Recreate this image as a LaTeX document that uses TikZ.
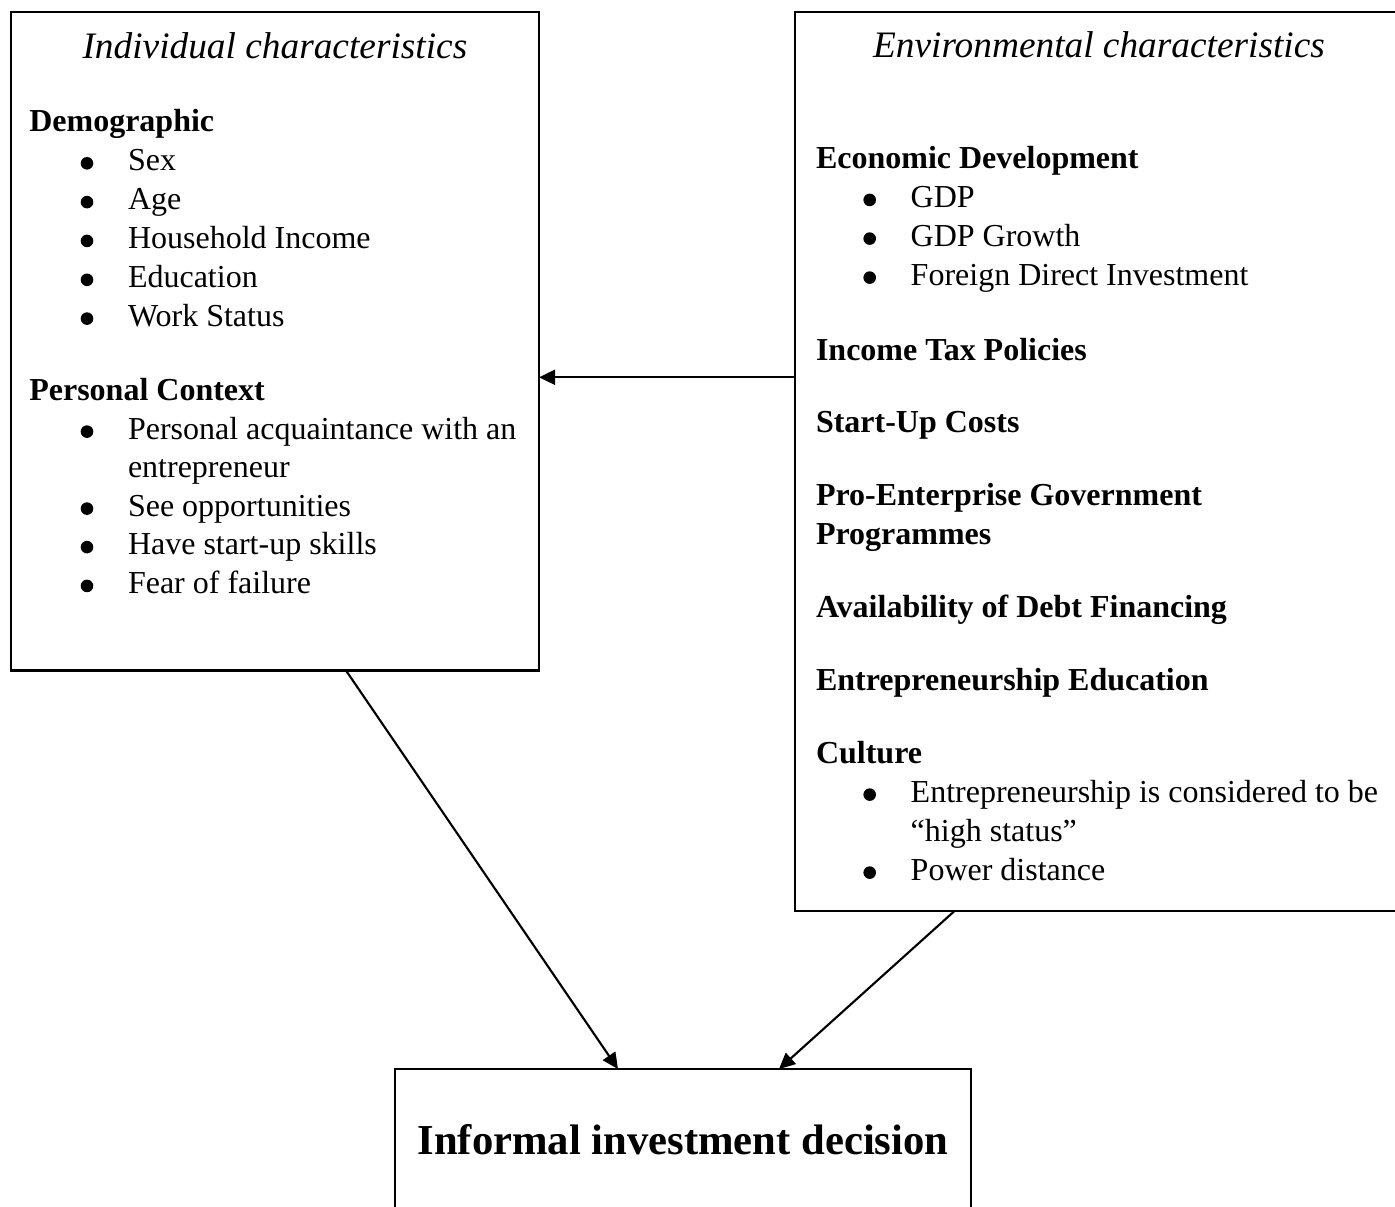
\documentclass[tikz,border=0pt]{standalone}
\usepackage{fontspec}
\setmainfont{Liberation Serif}
\usetikzlibrary{arrows.meta}
\newcommand\px{0.375pt}
\tikzset{
  box/.style={draw, line width=0.8pt, rectangle, inner sep=0pt, outer sep=0pt, anchor=north west},
  txt/.style={anchor=base west, inner sep=0pt, outer sep=0pt, font=\fontsize{12}{14}\selectfont},
  hd/.style={txt, font=\fontsize{12}{14}\selectfont\bfseries},
  ttl/.style={anchor=base, inner sep=0pt, font=\fontsize{14}{16}\selectfont\itshape},
  big/.style={anchor=base, inner sep=0pt, font=\fontsize{16}{19}\selectfont\bfseries},
  conn/.style={line width=0.8pt, -{Triangle[length=6pt,width=5.6pt]}},
  dot/.style={fill=black}
}
% bulleted item: name, x, baseline y, text
\newcommand\myitem[4]{%
  \node[txt] (#1) at (#2,#3) {#4};
  \fill[dot] ([xshift=-41*\px, yshift=7.4*\px]#1.base west) circle[radius=6.3*\px];
}
\begin{document}
\begin{tikzpicture}[x=0.375pt, y=-0.375pt]
\useasboundingbox (0,0) rectangle (1395,1206);

% boxes
\node[box, minimum width=528.3*\px, minimum height=658.8*\px] (L) at (10.7,11.7) {};
\node[box, minimum width=608*\px, minimum height=899.3*\px] (R) at (795,11.7) {};
\node[box, minimum width=576*\px, minimum height=200*\px] (B) at (395,1069) {};

% left box content
\node[ttl] (lt) at (274.9,58.3) {Individual characteristics};
\node[hd] (demo) at (29.3,131) {Demographic};
\myitem{sex}{128}{170.7}{Sex}
\myitem{age}{128}{209.5}{Age}
\myitem{inc}{128}{248.3}{Household Income}
\myitem{edu}{128}{287.2}{Education}
\myitem{work}{128}{326}{Work Status}
\node[hd] (pc) at (29.3,400.7) {Personal Context};
\myitem{acq}{128}{439}{Personal acquaintance with an}
\node[txt] (acq2) at (128,477.5) {entrepreneur};
\myitem{opp}{128}{516}{See opportunities}
\myitem{skl}{128}{554.5}{Have start-up skills}
\myitem{fear}{128}{593.3}{Fear of failure}

% right box content
\node[ttl] (rt) at (1099,57.3) {Environmental characteristics};
\node[hd] (eco) at (816,168.3) {Economic Development};
\myitem{gdp}{910.7}{207.3}{GDP}
\myitem{gdpg}{910.7}{246}{GDP Growth}
\myitem{fdi}{910.7}{285}{Foreign Direct Investment}
\node[hd] (tax) at (816,360) {Income Tax Policies};
\node[hd] (suc) at (816,432.7) {Start-Up Costs};
\node[hd] (peg) at (816,505.7) {Pro-Enterprise Government};
\node[hd] (peg2) at (816,544.3) {Programmes};
\node[hd] (debt) at (816,617.3) {Availability of Debt Financing};
\node[hd] (ee) at (816,690) {Entrepreneurship Education};
\node[hd] (cul) at (816,763) {Culture};
\myitem{hs}{910.7}{802}{Entrepreneurship is considered to be}
\node[txt] (hs2) at (910.7,841) {“high status”};
\myitem{pd}{910.7}{880}{Power distance}

% bottom box content
\node[big] (dec) at (683,1154) {Informal investment decision};

% connectors
\coordinate (ay) at (0,377.3);
\coordinate (c1) at (346,0);
\coordinate (c2) at (618,0);
\coordinate (c3) at (954.5,0);
\coordinate (c4) at (779,0);
\draw[conn] (R.west |- ay) -- (L.east |- ay);
\draw[conn] (L.south -| c1) -- (B.north -| c2);
\draw[conn] (R.south -| c3) -- (B.north -| c4);
\end{tikzpicture}
\end{document}
